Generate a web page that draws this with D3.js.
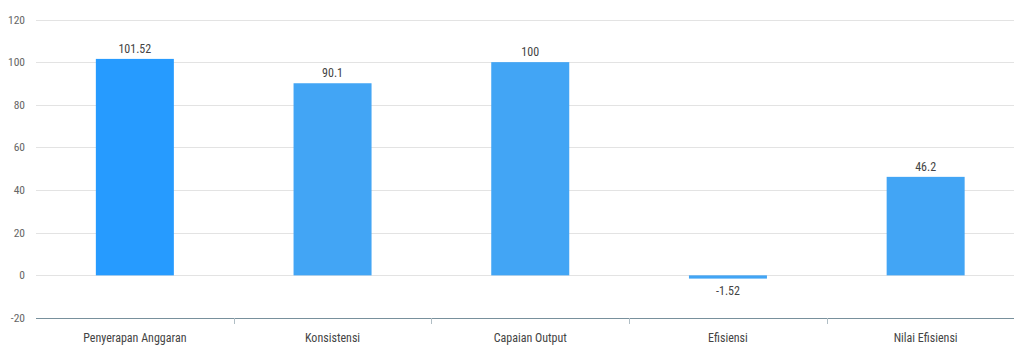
<!DOCTYPE html>
<html><head><meta charset="utf-8">
<script src="https://cdn.jsdelivr.net/npm/d3@7"></script>
<style>body{margin:0;background:#fff}svg{display:block;font-family:"Liberation Sans Narrow","Roboto Condensed",Roboto,Arial,sans-serif}</style>
</head><body><svg id="c" width="1014" height="347"></svg>
<script>
const categories = ["Penyerapan Anggaran","Konsistensi","Capaian Output","Efisiensi","Nilai Efisiensi"];
const values = [101.52, 90.1, 100, -1.52, 46.2];
const yTicks = [-20, 0, 20, 40, 60, 80, 100, 120];
const barColors = ["#269BFF","#42A5F5","#42A5F5","#42A5F5","#42A5F5"];

(function () {
const svg = d3.select("#c");
const mLeft = 36, mRight = 1024.5, mTop = 19.5, mBottom = 318;
const x = d3.scaleBand().domain(categories).range([mLeft, mRight]).paddingInner(0).paddingOuter(0);
const y = d3.scaleLinear().domain([-20, 120]).range([mBottom, mTop]);

// gridlines
svg.append("g").selectAll("line").data(yTicks.filter(t => t !== -20)).join("line")
  .attr("x1", mLeft).attr("x2", 1014).attr("y1", d => Math.round(y(d)) + 0.5).attr("y2", d => Math.round(y(d)) + 0.5)
  .attr("stroke", "#e3e3e3").attr("stroke-width", 1);

// y labels
svg.append("g").selectAll("text").data(yTicks).join("text")
  .attr("x", 25).attr("y", d => y(d)).attr("dy", "0.35em").attr("text-anchor", "end")
  .attr("font-size", 11.5).attr("fill", "#666").text(d => d);

// bars
const bw = 78;
svg.append("g").selectAll("rect").data(values).join("rect")
  .attr("x", (d, i) => x(categories[i]) + x.bandwidth() / 2 - bw / 2)
  .attr("width", bw)
  .attr("y", d => y(Math.max(0, d)))
  .attr("height", d => Math.abs(y(d) - y(0)))
  .attr("fill", (d, i) => barColors[i]);

// data labels
svg.append("g").selectAll("text").data(values).join("text")
  .attr("x", (d, i) => x(categories[i]) + x.bandwidth() / 2)
  .attr("y", d => d >= 0 ? y(d) - 6 : y(d) + 16)
  .attr("text-anchor", "middle").attr("font-size", 12).attr("fill", "#444")
  .text(d => d);

// x axis line
svg.append("line").attr("x1", mLeft).attr("x2", 1014).attr("y1", mBottom + 0.5).attr("y2", mBottom + 0.5)
  .attr("stroke", "#78909C").attr("stroke-width", 1);
// ticks between bands
svg.append("g").selectAll("line").data(categories.slice(1)).join("line")
  .attr("x1", d => Math.round(x(d)) + 0.5).attr("x2", d => Math.round(x(d)) + 0.5)
  .attr("y1", mBottom).attr("y2", mBottom + 6).attr("stroke", "#b0bec5").attr("stroke-width", 1);

// x labels
svg.append("g").selectAll("text").data(categories).join("text")
  .attr("x", d => x(d) + x.bandwidth() / 2).attr("y", 342)
  .attr("text-anchor", "middle").attr("font-size", 12).attr("fill", "#444").text(d => d);
})();
</script></body></html>
